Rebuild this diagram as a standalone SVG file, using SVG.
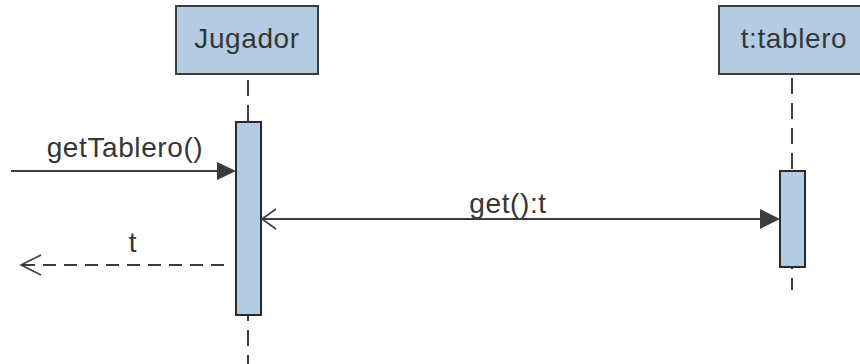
<svg xmlns="http://www.w3.org/2000/svg" width="860" height="364" viewBox="0 0 860 364">
<defs>
<style>
.box{fill:#b3cce4;stroke:#3c3c3c;stroke-width:2}
.act{fill:#b3cce4;stroke:#2a2a2a;stroke-width:2}
.life{stroke:#3c3c3c;stroke-width:2;stroke-dasharray:16 9;fill:none}
.msg{stroke:#3c3c3c;stroke-width:2;fill:none}
.ret{stroke:#3c3c3c;stroke-width:2;fill:none;stroke-dasharray:13 8}
.open{stroke:#3c3c3c;stroke-width:1.6;fill:none}
.head{fill:#3c3c3c;stroke:none}
text{font-family:"Liberation Sans",Arial,sans-serif;font-size:28px;letter-spacing:0.6px;fill:#363636;text-anchor:middle}
</style>
</defs>
<rect width="860" height="364" fill="#ffffff"/>
<g id="lifelines">
<line class="life" x1="248" y1="80" x2="248" y2="364"/>
<line class="life" x1="792" y1="78" x2="792" y2="290"/>
</g>
<g id="jugador">
<rect class="box" x="176" y="6" width="142" height="68"/>
<text x="247" y="48">Jugador</text>
<rect class="act" x="236" y="122" width="25" height="193"/>
</g>
<g id="tablero">
<rect class="box" x="719" y="6" width="148" height="68"/>
<text x="794" y="48">t:tablero</text>
<rect class="act" x="780" y="171" width="25" height="96"/>
</g>
<g id="connectors">
<line class="msg" x1="11" y1="171" x2="222" y2="171"/>
<polygon class="head" points="236,171 217,162 217,180"/>
<text x="125" y="157">getTablero()</text>
<line class="msg" x1="262" y1="219" x2="765" y2="219"/>
<polygon class="head" points="780,219 760,209 760,229"/>
<polyline class="open" points="276,209 262,219 276,229"/>
<text x="508" y="213">get():t</text>
<line class="ret" x1="22" y1="265" x2="230" y2="265"/>
<polyline class="open" points="41,255 21,265 41,275"/>
<text x="133" y="252">t</text>
</g>
</svg>
